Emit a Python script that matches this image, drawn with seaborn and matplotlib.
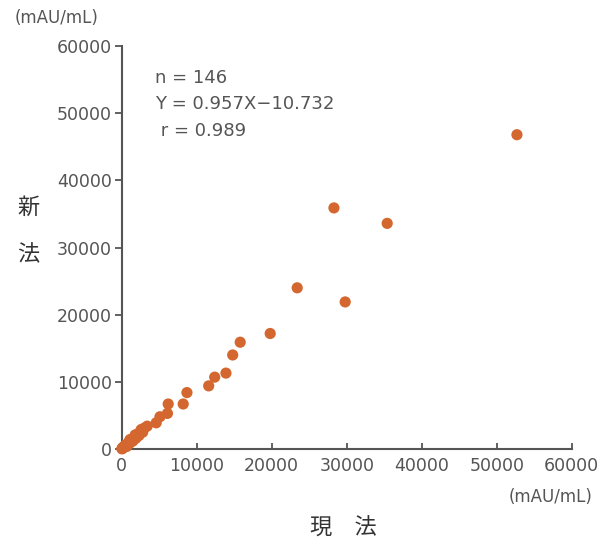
import numpy as np
import pandas as pd
import matplotlib
matplotlib.use("Agg")
import matplotlib.pyplot as plt
import seaborn as sns

# values (mAU/mL)
current_method = [52700, 28300, 35400, 23400, 29800, 19800, 15800, 14800, 13900,
                  12400, 11600, 8700, 8200, 6200, 6100, 5100, 4600, 3400,
                  3000, 2800, 2500, 2300, 2100, 1900, 1700, 1500, 1400, 1200,
                  1000, 900, 800, 650, 500, 400, 300, 200, 120, 60, 30,
                  2600, 1800, 1100, 700]
new_method = [46800, 35900, 33600, 24000, 21900, 17200, 15900, 14000, 11300,
              10700, 9400, 8400, 6700, 6700, 5300, 4800, 3900, 3400,
              3100, 2500, 2600, 2000, 2200, 1600, 1700, 1200, 1500, 1000,
              1100, 700, 800, 500, 600, 300, 350, 150, 200, 80, 20,
              2900, 2100, 1400, 400]

stats_lines = ["n = 146", "Y = 0.957X\u221210.732", " r = 0.989"]

df = pd.DataFrame({"x": current_method, "y": new_method})

sns.set_theme(style="white")
plt.rcParams['font.family'] = ['DejaVu Sans', 'Noto Sans CJK JP']

grey = "#555555"
fig = plt.figure(figsize=(5.98, 5.42), dpi=100)
ax = fig.add_axes([0.2035, 0.1716, 0.7525, 0.7434])

sns.scatterplot(data=df, x="x", y="y", ax=ax, color="#D4672F", s=65,
                edgecolor="none", zorder=3, clip_on=False)

ax.set_xlim(0, 60000)
ax.set_ylim(0, 60000)
ax.set_xticks(np.arange(0, 60001, 10000))
ax.set_yticks(np.arange(0, 60001, 10000))

for s in ["top", "right"]:
    ax.spines[s].set_visible(False)
for s in ["left", "bottom"]:
    ax.spines[s].set_color(grey)
    ax.spines[s].set_linewidth(1.5)

ax.tick_params(axis="y", direction="out", length=5, width=1.3, color=grey,
               labelsize=12.5, labelcolor=grey, pad=2, left=True)
ax.tick_params(axis="x", direction="in", length=4, width=1.3, color=grey,
               labelsize=12.5, labelcolor=grey, pad=6, bottom=True)

ax.set_xlabel("")
ax.set_ylabel("")

cjk = ['Noto Sans CJK JP', 'DejaVu Sans']
ax.text(0.492, -0.196, "現\u3000法", transform=ax.transAxes, ha="center",
        va="center", fontsize=16, color="#333333", family=cjk)
ax.text(-0.208, 0.60, "新", transform=ax.transAxes, ha="center",
        va="center", fontsize=16, color="#333333", family=cjk)
ax.text(-0.208, 0.481, "法", transform=ax.transAxes, ha="center",
        va="center", fontsize=16, color="#333333", family=cjk)

ax.text(-0.144, 1.069, "(mAU/mL)", transform=ax.transAxes, ha="center",
        va="center", fontsize=12, color=grey)
ax.text(0.954, -0.119, "(mAU/mL)", transform=ax.transAxes, ha="center",
        va="center", fontsize=12, color=grey)

for i, line in enumerate(stats_lines):
    ax.text(0.074, 0.921 - i * 0.066, line, transform=ax.transAxes,
            ha="left", va="center", fontsize=13, color=grey)

fig.savefig("out.png", dpi=100)
